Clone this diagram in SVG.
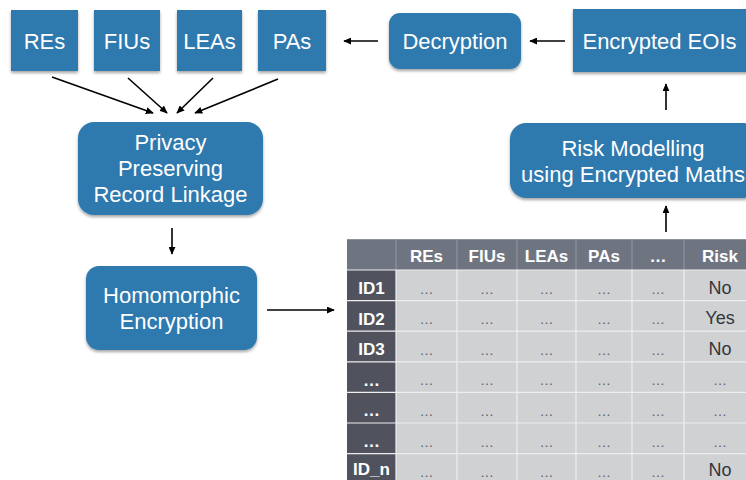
<svg xmlns="http://www.w3.org/2000/svg" width="746" height="480" viewBox="0 0 746 480">
<style>
.box{fill:#2e79ae;filter:url(#sh)}
.bt{fill:#ffffff;font-family:"Liberation Sans",Arial,sans-serif;font-size:22px;text-anchor:middle}
.conn{stroke:#000;stroke-width:1.6;fill:none;marker-end:url(#ah)}
.th{fill:#ffffff;font-family:"Liberation Sans",Arial,sans-serif;font-size:17px;font-weight:bold;text-anchor:middle}
.dot{fill:#5d6169;font-family:"Liberation Sans",Arial,sans-serif;font-size:14px;text-anchor:middle}
.val{fill:#33363b;font-family:"Liberation Sans",Arial,sans-serif;font-size:18px;text-anchor:middle}
.gl{stroke:#eeeef0;stroke-width:1.2}
.hl{stroke:#8d939b;stroke-width:1.2}
</style>
<defs>
<filter id="sh" x="-10%" y="-10%" width="120%" height="130%">
<feDropShadow dx="0" dy="2" stdDeviation="1.8" flood-color="#000" flood-opacity="0.35"/>
</filter>
<marker id="ah" viewBox="0 0 10 10" refX="9" refY="5" markerWidth="8" markerHeight="7" orient="auto" markerUnits="userSpaceOnUse" preserveAspectRatio="none">
<path d="M0,0 L10,5 L0,10 z" fill="#000"/>
</marker>
</defs>
<rect width="746" height="480" fill="#ffffff"/>

<g id="res"><rect class="box" x="11" y="10" width="67" height="61"/><text class="bt" x="44.5" y="48.5">REs</text></g>
<g id="fius"><rect class="box" x="94" y="10" width="66" height="61"/><text class="bt" x="127" y="48.5">FIUs</text></g>
<g id="leas"><rect class="box" x="177" y="10" width="65" height="61"/><text class="bt" x="209.5" y="48.5">LEAs</text></g>
<g id="pas"><rect class="box" x="258" y="10" width="68" height="61"/><text class="bt" x="292" y="48.5">PAs</text></g>
<g id="decryption"><rect class="box" x="389" y="13" width="132" height="56" rx="11"/><text class="bt" x="455" y="49">Decryption</text></g>
<g id="encrypted-eois"><rect class="box" x="573" y="9" width="180" height="63"/><text class="bt" x="659.5" y="48.5">Encrypted EOIs</text></g>
<g id="risk-modelling"><rect class="box" x="510" y="123" width="250" height="75" rx="16"/><text class="bt" x="633" y="156">Risk Modelling</text><text class="bt" x="633" y="182">using Encrypted Maths</text></g>
<g id="pprl"><rect class="box" x="78" y="122" width="185" height="93" rx="16"/><text class="bt" x="170.5" y="150">Privacy</text><text class="bt" x="170.5" y="176">Preserving</text><text class="bt" x="170.5" y="202">Record Linkage</text></g>
<g id="homomorphic"><rect class="box" x="86" y="266" width="171" height="84" rx="13"/><text class="bt" x="171.5" y="303">Homomorphic</text><text class="bt" x="171.5" y="329">Encryption</text></g>

<g id="connectors">
<line class="conn" x1="52" y1="77" x2="153" y2="113"/>
<line class="conn" x1="128" y1="78" x2="167" y2="113"/>
<line class="conn" x1="213" y1="78" x2="177" y2="113"/>
<line class="conn" x1="278" y1="79" x2="195" y2="113"/>
<line class="conn" x1="378" y1="41" x2="344" y2="41"/>
<line class="conn" x1="565" y1="41" x2="530" y2="41"/>
<line class="conn" x1="666" y1="110" x2="666" y2="84"/>
<line class="conn" x1="666" y1="232" x2="666" y2="206"/>
<line class="conn" x1="172" y1="228" x2="172" y2="254"/>
<line class="conn" x1="267" y1="310" x2="334" y2="310"/>
</g>

<g id="table">
<rect x="347" y="239" width="399" height="31" fill="#6f7580"/>
<rect x="347" y="270" width="49" height="210" fill="#50535e"/>
<rect x="396" y="270" width="350" height="210" fill="#d0d1d3"/>
<line class="hl" x1="347" y1="239.5" x2="746" y2="239.5"/>
<g class="hl">
<line x1="396" y1="239" x2="396" y2="270"/><line x1="457" y1="239" x2="457" y2="270"/><line x1="517" y1="239" x2="517" y2="270"/><line x1="576" y1="239" x2="576" y2="270"/><line x1="632" y1="239" x2="632" y2="270"/><line x1="684" y1="239" x2="684" y2="270"/>
</g>
<g class="gl">
<line x1="396" y1="270" x2="396" y2="480"/><line x1="457" y1="270" x2="457" y2="480"/><line x1="517" y1="270" x2="517" y2="480"/><line x1="576" y1="270" x2="576" y2="480"/><line x1="632" y1="270" x2="632" y2="480"/><line x1="684" y1="270" x2="684" y2="480"/>
<line x1="347" y1="270" x2="746" y2="270"/><line x1="347" y1="300.6" x2="746" y2="300.6"/><line x1="347" y1="331.2" x2="746" y2="331.2"/><line x1="347" y1="361.8" x2="746" y2="361.8"/><line x1="347" y1="392.4" x2="746" y2="392.4"/><line x1="347" y1="423" x2="746" y2="423"/><line x1="347" y1="453.6" x2="746" y2="453.6"/>
</g>
<text class="th" x="426.5" y="262">REs</text>
<text class="th" x="487" y="262">FIUs</text>
<text class="th" x="546.5" y="262">LEAs</text>
<text class="th" x="604" y="262">PAs</text>
<text class="th" x="658" y="262">…</text>
<text class="th" x="720" y="262">Risk</text>

<text class="th" x="371.5" y="294">ID1</text>
<text class="th" x="371.5" y="324.6">ID2</text>
<text class="th" x="371.5" y="355.2">ID3</text>
<text class="th" x="371.5" y="385.8">…</text>
<text class="th" x="371.5" y="416.4">…</text>
<text class="th" x="371.5" y="447">…</text>
<text class="th" x="371.5" y="474.5">ID_n</text>

<g class="dot">
<text x="426.5" y="293.5">…</text><text x="487" y="293.5">…</text><text x="546.5" y="293.5">…</text><text x="604" y="293.5">…</text><text x="658" y="293.5">…</text>
<text x="426.5" y="324.1">…</text><text x="487" y="324.1">…</text><text x="546.5" y="324.1">…</text><text x="604" y="324.1">…</text><text x="658" y="324.1">…</text>
<text x="426.5" y="354.7">…</text><text x="487" y="354.7">…</text><text x="546.5" y="354.7">…</text><text x="604" y="354.7">…</text><text x="658" y="354.7">…</text>
<text x="426.5" y="385.3">…</text><text x="487" y="385.3">…</text><text x="546.5" y="385.3">…</text><text x="604" y="385.3">…</text><text x="658" y="385.3">…</text><text x="720" y="385.3">…</text>
<text x="426.5" y="415.9">…</text><text x="487" y="415.9">…</text><text x="546.5" y="415.9">…</text><text x="604" y="415.9">…</text><text x="658" y="415.9">…</text><text x="720" y="415.9">…</text>
<text x="426.5" y="446.5">…</text><text x="487" y="446.5">…</text><text x="546.5" y="446.5">…</text><text x="604" y="446.5">…</text><text x="658" y="446.5">…</text><text x="720" y="446.5">…</text>
<text x="426.5" y="477.1">…</text><text x="487" y="477.1">…</text><text x="546.5" y="477.1">…</text><text x="604" y="477.1">…</text><text x="658" y="477.1">…</text>
</g>
<text class="val" x="720" y="293.5">No</text>
<text class="val" x="720" y="324.1">Yes</text>
<text class="val" x="720" y="354.7">No</text>
<text class="val" x="720" y="476">No</text>
</g>
</svg>
